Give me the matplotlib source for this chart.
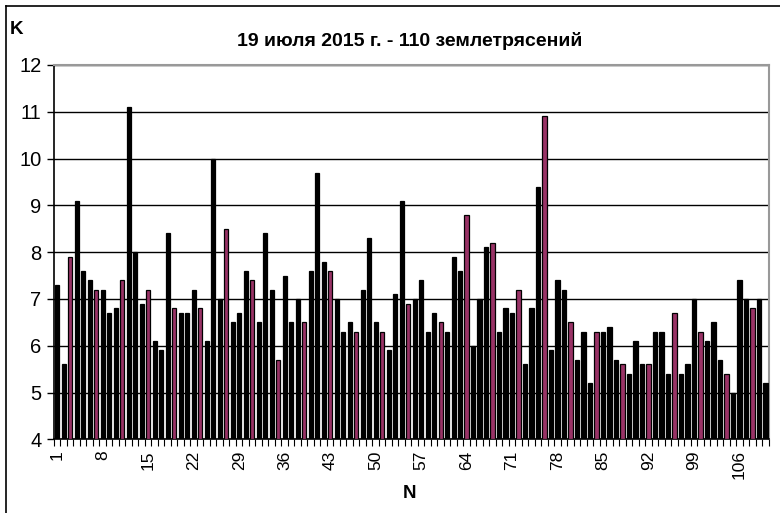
import numpy as np
import matplotlib.pyplot as plt
from matplotlib.lines import Line2D
from matplotlib.ticker import FixedLocator, NullFormatter

plt.rcParams['font.family'] = ['Liberation Sans', 'DejaVu Sans']

# magnitude class K for each of the 110 quakes
k_values = [
    7.3, 5.6, 7.9, 9.1, 7.6, 7.4, 7.2, 7.2, 6.7, 6.8,
    7.4, 11.1, 8.0, 6.9, 7.2, 6.1, 5.9, 8.4, 6.8, 6.7,
    6.7, 7.2, 6.8, 6.1, 10.0, 7.0, 8.5, 6.5, 6.7, 7.6,
    7.4, 6.5, 8.4, 7.2, 5.7, 7.5, 6.5, 7.0, 6.5, 7.6,
    9.7, 7.8, 7.6, 7.0, 6.3, 6.5, 6.3, 7.2, 8.3, 6.5,
    6.3, 5.9, 7.1, 9.1, 6.9, 7.0, 7.4, 6.3, 6.7, 6.5,
    6.3, 7.9, 7.6, 8.8, 6.0, 7.0, 8.1, 8.2, 6.3, 6.8,
    6.7, 7.2, 5.6, 6.8, 9.4, 10.9, 5.9, 7.4, 7.2, 6.5,
    5.7, 6.3, 5.2, 6.3, 6.3, 6.4, 5.7, 5.6, 5.4, 6.1,
    5.6, 5.6, 6.3, 6.3, 5.4, 6.7, 5.4, 5.6, 7.0, 6.3,
    6.1, 6.5, 5.7, 5.4, 5.0, 7.4, 7.0, 6.8, 7.0, 5.2,
]
# events drawn in the plum colour
highlighted = [3, 7, 11, 15, 19, 23, 27, 31, 35, 39, 43, 47, 51, 55,
               60, 64, 68, 72, 76, 80, 84, 88, 92, 96, 100, 104, 108]

n = np.arange(1, len(k_values) + 1)
colors = ['#993366' if i in highlighted else 'black' for i in n]

fig = plt.figure(figsize=(7.8, 5.13), dpi=100)
ax = fig.add_axes([54 / 780, 1 - 439.3 / 513, (768.7 - 54) / 780, (439.3 - 65) / 513])

ax.bar(n, np.array(k_values) - 4, bottom=4, width=0.64, color=colors,
       edgecolor='black', linewidth=0.9, zorder=3)

ax.set_xlim(0.5, len(k_values) + 0.5)
ax.set_ylim(4, 12)
ax.set_yticks(range(4, 13))
ax.grid(axis='y', color='black', linewidth=1.0, zorder=1)

# category labels every 7th quake, tick marks at category boundaries
ax.xaxis.set_major_locator(FixedLocator(list(range(1, 111, 7))))
ax.set_xticklabels([str(v) for v in range(1, 111, 7)], rotation=90, fontsize=12.5)
ax.tick_params(axis='x', which='major', length=0, pad=8)
ax.xaxis.set_minor_locator(FixedLocator(np.arange(0.5, 111, 1.0)))
ax.xaxis.set_minor_formatter(NullFormatter())
ax.tick_params(axis='x', which='minor', length=5, width=0.8, color='black')
ax.tick_params(axis='y', labelsize=14.5, length=5, width=1.0, pad=4)

for side in ['top', 'right']:
    ax.spines[side].set_color('#999999')
    ax.spines[side].set_linewidth(1.5)
for side in ['left', 'bottom']:
    ax.spines[side].set_color('black')
    ax.spines[side].set_linewidth(1.2)

fig.text(410 / 780, 1 - 41 / 513, '19 июля 2015 г. - 110 землетрясений',
         ha='center', va='center', fontsize=14, fontweight='bold')
fig.text(10 / 780, 1 - 30 / 513, 'K', ha='left', va='center',
         fontsize=13.5, fontweight='bold')
fig.text(410 / 780, 1 - 493 / 513, 'N', ha='center', va='center',
         fontsize=13.5, fontweight='bold')

# outer chart frame (only top and left edges are visible in the picture)
fig.add_artist(Line2D([6 / 780, 6 / 780], [0, 1 - 6 / 513], color='black', linewidth=1.2))
fig.add_artist(Line2D([6 / 780, 1], [1 - 6 / 513, 1 - 6 / 513], color='black', linewidth=1.2))

fig.savefig('out.png', dpi=100)
